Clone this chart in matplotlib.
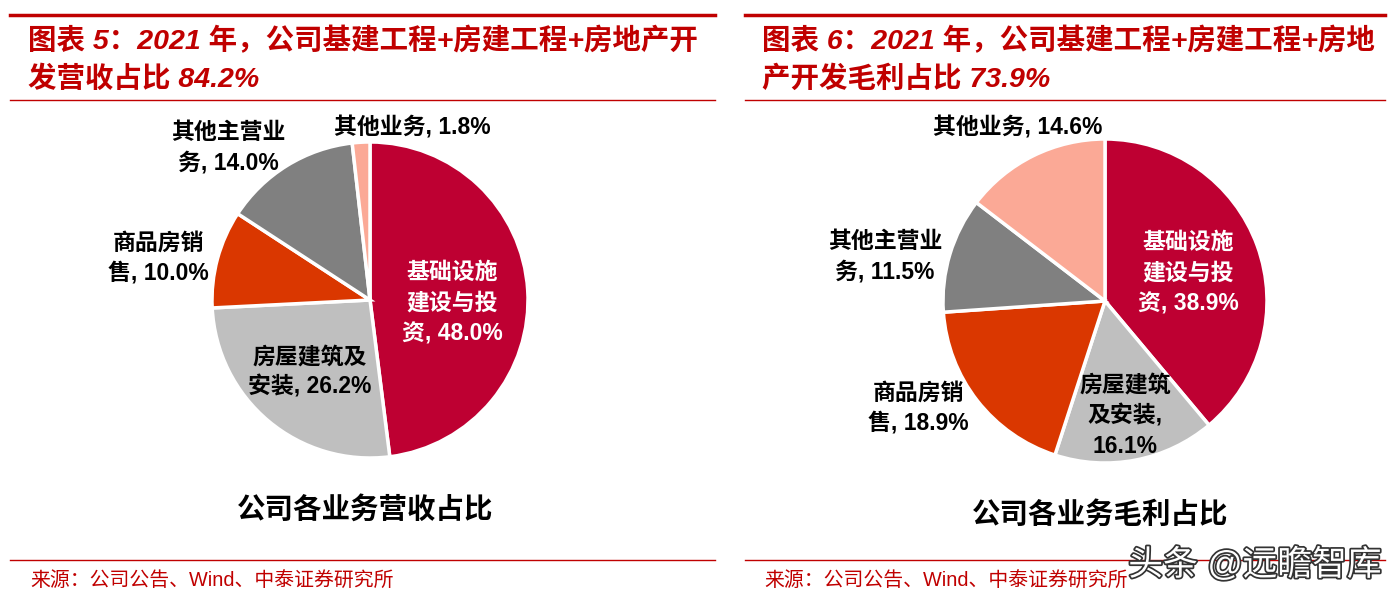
import matplotlib.pyplot as plt
import matplotlib.patheffects as pe

plt.rcParams['font.family'] = ['Liberation Sans', 'Noto Sans CJK SC']

# data
categories = ['基础设施建设与投资', '房屋建筑及安装', '商品房销售', '其他主营业务', '其他业务']
revenue_share = [48.0, 26.2, 10.0, 14.0, 1.8]
profit_share = [38.9, 16.1, 18.9, 11.5, 14.6]
colors = ['#BE0032', '#BFBFBF', '#DA3700', '#808080', '#FBA996']

revenue_labels = ['基础设施\n建设与投\n资, 48.0%', '房屋建筑及\n安装, 26.2%', '商品房销\n售, 10.0%',
                  '其他主营业\n务, 14.0%', '其他业务, 1.8%']
profit_labels = ['基础设施\n建设与投\n资, 38.9%', '房屋建筑\n及安装,\n16.1%', '商品房销\n售, 18.9%',
                 '其他主营业\n务, 11.5%', '其他业务, 14.6%']

W, H = 1399, 601
RED = '#C00000'

fig = plt.figure(figsize=(W / 100, H / 100), dpi=100)
bg = fig.add_axes([0, 0, 1, 1])
bg.set_xlim(0, W)
bg.set_ylim(H, 0)
bg.axis('off')
bg.set_zorder(5)
bg.patch.set_visible(False)


def draw_panel(x0, x1, tx, title1, title2, values, labels, label_pos, label_colors, cx, cy, r, subtitle, sub_y):
    # frame lines
    bg.plot([x0, x1], [15, 15], color=RED, lw=2.5)
    bg.plot([x0, x1], [100, 100], color=RED, lw=1.0)
    bg.plot([x0, x1], [560, 560], color=RED, lw=1.0)
    bg.text(tx, 41, title1, color=RED, fontsize=20.5, fontweight='bold', style='italic', va='center')
    bg.text(tx, 79, title2, color=RED, fontsize=20.5, fontweight='bold', style='italic', va='center')
    bg.text(tx + 2, 580, '来源：公司公告、Wind、中泰证券研究所', color=RED, fontsize=14.3, va='center')
    bg.text(cx - 5, sub_y, subtitle, color='black', fontsize=20.5, fontweight='bold', ha='center', va='center')

    ax = fig.add_axes([(cx - r) / W, (H - cy - r) / H, 2 * r / W, 2 * r / H])
    ax.pie(values, colors=colors, startangle=90, counterclock=False,
           wedgeprops=dict(edgecolor='white', linewidth=2.5))
    ax.set_xlim(-1, 1)
    ax.set_ylim(-1, 1)
    for lab, (px, py), c in zip(labels, label_pos, label_colors):
        bg.text(px, py, lab, color=c, fontsize=16.5, fontweight='bold', ha='center', va='center',
                multialignment='center', linespacing=1.42, zorder=5)


draw_panel(10, 715, 28, '图表 5：2021 年，公司基建工程+房建工程+房地产开', '发营收占比 84.2%',
           revenue_share, revenue_labels,
           [(452, 303), (310, 372), (158, 258), (228, 148), (412, 128)],
           ['white', 'black', 'black', 'black', 'black'],
           370, 300, 158, '公司各业务营收占比', 510)

draw_panel(745, 1385, 762, '图表 6：2021 年，公司基建工程+房建工程+房地', '产开发毛利占比 73.9%',
           profit_share, profit_labels,
           [(1188, 273), (1125, 416), (918, 408), (885, 257), (1018, 128)],
           ['white', 'black', 'black', 'black', 'black'],
           1105, 301, 162, '公司各业务毛利占比', 515)

# watermark
bg.text(1255, 565, '头条 @远瞻智库', color='white', fontsize=25, ha='center', va='center', zorder=10,
        path_effects=[pe.withStroke(linewidth=2.5, foreground='#333333')])

fig.savefig('out.png', dpi=100)
